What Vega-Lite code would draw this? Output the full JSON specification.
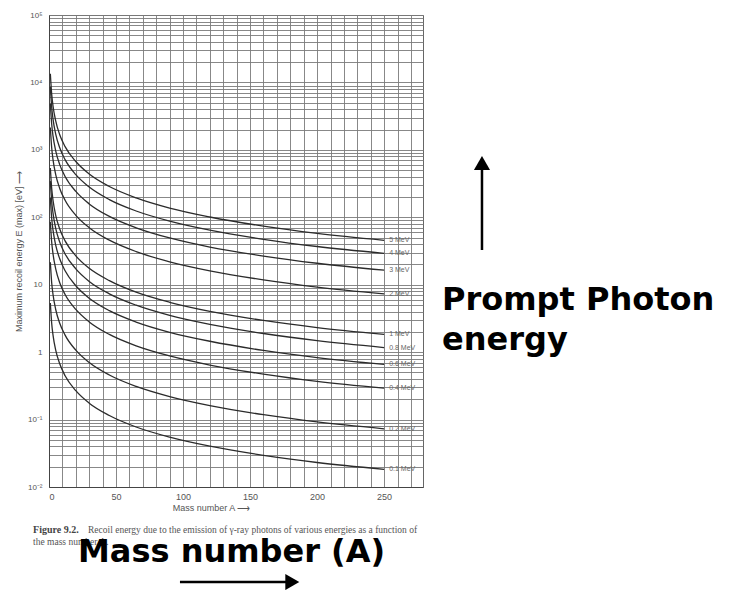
{
  "$schema": "https://vega.github.io/schema/vega-lite/v6.json",
  "width": 374,
  "height": 472,
  "autosize": {"type": "none"},
  "padding": {"left": 49, "top": 15, "right": 313, "bottom": 103},
  "background": "white",
  "config": {
    "view": {"stroke": "#666", "strokeWidth": 1},
    "font": "Liberation Sans"
  },
  "datasets": {
    "curves": [
      {"E":"5","A":1,"R":13420},{"E":"5","A":2,"R":6710},{"E":"5","A":3,"R":4473},{"E":"5","A":5,"R":2684},{"E":"5","A":8,"R":1678},{"E":"5","A":12,"R":1118},{"E":"5","A":20,"R":671},{"E":"5","A":30,"R":438},{"E":"5","A":45,"R":286},{"E":"5","A":65,"R":194},{"E":"5","A":90,"R":137},{"E":"5","A":120,"R":101},{"E":"5","A":160,"R":73.8},{"E":"5","A":200,"R":57.7},{"E":"5","A":250,"R":45.6},
      {"E":"4","A":1,"R":8589},{"E":"4","A":2,"R":4295},{"E":"4","A":3,"R":2863},{"E":"4","A":5,"R":1718},{"E":"4","A":8,"R":1074},{"E":"4","A":12,"R":716},{"E":"4","A":20,"R":429},{"E":"4","A":30,"R":281},{"E":"4","A":45,"R":183},{"E":"4","A":65,"R":124},{"E":"4","A":90,"R":87.8},{"E":"4","A":120,"R":64.4},{"E":"4","A":160,"R":47.2},{"E":"4","A":200,"R":36.9},{"E":"4","A":250,"R":29.2},
      {"E":"3","A":1,"R":4831},{"E":"3","A":2,"R":2416},{"E":"3","A":3,"R":1610},{"E":"3","A":5,"R":966},{"E":"3","A":8,"R":604},{"E":"3","A":12,"R":403},{"E":"3","A":20,"R":242},{"E":"3","A":30,"R":158},{"E":"3","A":45,"R":103},{"E":"3","A":65,"R":69.9},{"E":"3","A":90,"R":49.4},{"E":"3","A":120,"R":36.2},{"E":"3","A":160,"R":26.6},{"E":"3","A":200,"R":20.8},{"E":"3","A":250,"R":16.4},
      {"E":"2","A":1,"R":2147},{"E":"2","A":2,"R":1074},{"E":"2","A":3,"R":716},{"E":"2","A":5,"R":429},{"E":"2","A":8,"R":268},{"E":"2","A":12,"R":179},{"E":"2","A":20,"R":107},{"E":"2","A":30,"R":70.1},{"E":"2","A":45,"R":45.8},{"E":"2","A":65,"R":31.0},{"E":"2","A":90,"R":21.9},{"E":"2","A":120,"R":16.1},{"E":"2","A":160,"R":11.8},{"E":"2","A":200,"R":9.23},{"E":"2","A":250,"R":7.30},
      {"E":"1","A":1,"R":537},{"E":"1","A":2,"R":268},{"E":"1","A":3,"R":179},{"E":"1","A":5,"R":107},{"E":"1","A":8,"R":67.1},{"E":"1","A":12,"R":44.7},{"E":"1","A":20,"R":26.8},{"E":"1","A":30,"R":17.5},{"E":"1","A":45,"R":11.5},{"E":"1","A":65,"R":7.76},{"E":"1","A":90,"R":5.49},{"E":"1","A":120,"R":4.03},{"E":"1","A":160,"R":2.95},{"E":"1","A":200,"R":2.31},{"E":"1","A":250,"R":1.83},
      {"E":"0.8","A":1,"R":344},{"E":"0.8","A":2,"R":172},{"E":"0.8","A":3,"R":115},{"E":"0.8","A":5,"R":68.7},{"E":"0.8","A":8,"R":42.9},{"E":"0.8","A":12,"R":28.6},{"E":"0.8","A":20,"R":17.2},{"E":"0.8","A":30,"R":11.2},{"E":"0.8","A":45,"R":7.33},{"E":"0.8","A":65,"R":4.97},{"E":"0.8","A":90,"R":3.51},{"E":"0.8","A":120,"R":2.58},{"E":"0.8","A":160,"R":1.89},{"E":"0.8","A":200,"R":1.48},{"E":"0.8","A":250,"R":1.17},
      {"E":"0.6","A":1,"R":193},{"E":"0.6","A":2,"R":96.6},{"E":"0.6","A":3,"R":64.4},{"E":"0.6","A":5,"R":38.6},{"E":"0.6","A":8,"R":24.2},{"E":"0.6","A":12,"R":16.1},{"E":"0.6","A":20,"R":9.66},{"E":"0.6","A":30,"R":6.31},{"E":"0.6","A":45,"R":4.12},{"E":"0.6","A":65,"R":2.79},{"E":"0.6","A":90,"R":1.97},{"E":"0.6","A":120,"R":1.45},{"E":"0.6","A":160,"R":1.06},{"E":"0.6","A":200,"R":0.831},{"E":"0.6","A":250,"R":0.657},
      {"E":"0.4","A":1,"R":85.9},{"E":"0.4","A":2,"R":43.0},{"E":"0.4","A":3,"R":28.6},{"E":"0.4","A":5,"R":17.2},{"E":"0.4","A":8,"R":10.7},{"E":"0.4","A":12,"R":7.16},{"E":"0.4","A":20,"R":4.30},{"E":"0.4","A":30,"R":2.81},{"E":"0.4","A":45,"R":1.83},{"E":"0.4","A":65,"R":1.24},{"E":"0.4","A":90,"R":0.878},{"E":"0.4","A":120,"R":0.644},{"E":"0.4","A":160,"R":0.472},{"E":"0.4","A":200,"R":0.369},{"E":"0.4","A":250,"R":0.292},
      {"E":"0.2","A":1,"R":21.5},{"E":"0.2","A":2,"R":10.7},{"E":"0.2","A":3,"R":7.16},{"E":"0.2","A":5,"R":4.29},{"E":"0.2","A":8,"R":2.68},{"E":"0.2","A":12,"R":1.79},{"E":"0.2","A":20,"R":1.07},{"E":"0.2","A":30,"R":0.701},{"E":"0.2","A":45,"R":0.458},{"E":"0.2","A":65,"R":0.310},{"E":"0.2","A":90,"R":0.219},{"E":"0.2","A":120,"R":0.161},{"E":"0.2","A":160,"R":0.118},{"E":"0.2","A":200,"R":0.0923},{"E":"0.2","A":250,"R":0.0730},
      {"E":"0.1","A":1,"R":5.37},{"E":"0.1","A":2,"R":2.68},{"E":"0.1","A":3,"R":1.79},{"E":"0.1","A":5,"R":1.07},{"E":"0.1","A":8,"R":0.671},{"E":"0.1","A":12,"R":0.447},{"E":"0.1","A":20,"R":0.268},{"E":"0.1","A":30,"R":0.175},{"E":"0.1","A":45,"R":0.115},{"E":"0.1","A":65,"R":0.0776},{"E":"0.1","A":90,"R":0.0549},{"E":"0.1","A":120,"R":0.0403},{"E":"0.1","A":160,"R":0.0295},{"E":"0.1","A":200,"R":0.0231},{"E":"0.1","A":250,"R":0.0183}
    ],
    "labels": [
      {"t":"5    MeV","A":250,"R":45.6},
      {"t":"4    MeV","A":250,"R":29.2},
      {"t":"3    MeV","A":250,"R":16.4},
      {"t":"2    MeV","A":250,"R":7.30},
      {"t":"1    MeV","A":250,"R":1.83},
      {"t":"0.8 MeV","A":250,"R":1.17},
      {"t":"0.6 MeV","A":250,"R":0.657},
      {"t":"0.4 MeV","A":250,"R":0.292},
      {"t":"0.2 MeV","A":250,"R":0.073},
      {"t":"0.1 MeV","A":250,"R":0.0183}
    ],
    "big": [
      {"t":"Prompt Photon","A":293.2,"R":4.22},
      {"t":"energy","A":293.2,"R":1.08},
      {"t":"Mass number (A)","A":21.6,"R":0.000773}
    ],
    "capBold": [
      {"t":"Figure 9.2.","A":-11.9,"R":0.00208}
    ],
    "cap": [
      {"t":"Recoil energy due to the emission of γ-ray photons of various energies as a function of","A":29.1,"R":0.00208},
      {"t":"the mass number A.","A":-11.9,"R":0.00138}
    ],
    "arrows": [
      {"A":323.0,"R":32.7,"A2":323.0,"R2":520},
      {"A":97.7,"R":0.00039,"A2":177.0,"R2":0.00039}
    ],
    "headUp": [{"A":323.0,"R":640}],
    "headRight": [{"A":181.5,"R":0.00039}]
  },
  "layer": [
    {
      "data": {"name": "curves"},
      "mark": {"type": "line", "interpolate": "monotone", "color": "#2b2b2b", "strokeWidth": 1.3, "clip": true},
      "encoding": {
        "x": {
          "field": "A", "type": "quantitative",
          "scale": {"domain": [0, 279], "nice": false, "zero": false},
          "axis": {
            "values": [0,10,20,30,40,50,60,70,80,90,100,110,120,130,140,150,160,170,180,190,200,210,220,230,240,250,260,270],
            "tickCount": 100,
            "labelExpr": "datum.value % 50 == 0 ? datum.label : ''",
            "labelOverlap": false,
            "ticks": false,
            "grid": true, "gridColor": "#7a7a7a", "gridWidth": 0.9,
            "domainColor": "#444",
            "labelFont": "Liberation Sans", "labelFontSize": 9, "labelColor": "#555", "labelPadding": 5,
            "title": "Mass number A  ⟶",
            "titleFont": "Liberation Sans", "titleFontSize": 9, "titleFontWeight": "normal", "titleColor": "#555",
            "titleX": 162, "titleAlign": "center", "titlePadding": 2
          }
        },
        "y": {
          "field": "R", "type": "quantitative",
          "scale": {"type": "log", "domain": [0.01, 100000], "nice": false},
          "axis": {
            "values": [0.01,0.02,0.03,0.04,0.05,0.06,0.07,0.08,0.09,0.1,0.2,0.3,0.4,0.5,0.6,0.7,0.8,0.9,1,2,3,4,5,6,7,8,9,10,20,30,40,50,60,70,80,90,100,200,300,400,500,600,700,800,900,1000,2000,3000,4000,5000,6000,7000,8000,9000,10000,20000,30000,40000,50000,60000,70000,80000,90000,100000],
            "tickCount": 200,
            "labelExpr": "datum.value == 100000 ? '10⁵' : datum.value == 10000 ? '10⁴' : datum.value == 1000 ? '10³' : datum.value == 100 ? '10²' : datum.value == 10 ? '10' : datum.value == 1 ? '1' : datum.value == 0.1 ? '10⁻¹' : datum.value == 0.01 ? '10⁻²' : ''",
            "labelOverlap": false,
            "ticks": false,
            "grid": true, "gridColor": "#7a7a7a", "gridWidth": 0.9,
            "domainColor": "#444",
            "labelFont": "Liberation Sans", "labelFontSize": 8, "labelColor": "#555", "labelPadding": 7,
            "title": "Maximum recoil energy E (max) [eV]  ⟶",
            "titleFont": "Liberation Sans", "titleFontSize": 9, "titleFontWeight": "normal", "titleColor": "#555",
            "titlePadding": 4
          }
        },
        "detail": {"field": "E", "type": "nominal"}
      }
    },
    {
      "data": {"name": "labels"},
      "mark": {"type": "text", "align": "left", "baseline": "middle", "dx": 5, "fontSize": 7, "color": "#666", "font": "Liberation Sans"},
      "encoding": {
        "x": {"field": "A", "type": "quantitative"},
        "y": {"field": "R", "type": "quantitative"},
        "text": {"field": "t"}
      }
    },
    {
      "data": {"name": "capBold"},
      "mark": {"type": "text", "align": "left", "baseline": "alphabetic", "fontSize": 10, "fontWeight": "bold", "color": "#444", "font": "Liberation Serif", "clip": false},
      "encoding": {
        "x": {"field": "A", "type": "quantitative"},
        "y": {"field": "R", "type": "quantitative"},
        "text": {"field": "t"}
      }
    },
    {
      "data": {"name": "cap"},
      "mark": {"type": "text", "align": "left", "baseline": "alphabetic", "fontSize": 9.5, "color": "#555", "font": "Liberation Serif", "clip": false},
      "encoding": {
        "x": {"field": "A", "type": "quantitative"},
        "y": {"field": "R", "type": "quantitative"},
        "text": {"field": "t"}
      }
    },
    {
      "data": {"name": "big"},
      "mark": {"type": "text", "align": "left", "baseline": "alphabetic", "fontSize": 32, "fontWeight": "bold", "color": "#000", "font": "DejaVu Sans", "clip": false},
      "encoding": {
        "x": {"field": "A", "type": "quantitative"},
        "y": {"field": "R", "type": "quantitative"},
        "text": {"field": "t"}
      }
    },
    {
      "data": {"name": "arrows"},
      "mark": {"type": "rule", "color": "#000", "strokeWidth": 2.5, "clip": false},
      "encoding": {
        "x": {"field": "A", "type": "quantitative"},
        "y": {"field": "R", "type": "quantitative"},
        "x2": {"field": "A2"},
        "y2": {"field": "R2"}
      }
    },
    {
      "data": {"name": "headUp"},
      "mark": {"type": "point", "shape": "triangle-up", "filled": true, "color": "#000", "size": 260, "opacity": 1, "clip": false},
      "encoding": {
        "x": {"field": "A", "type": "quantitative"},
        "y": {"field": "R", "type": "quantitative"}
      }
    },
    {
      "data": {"name": "headRight"},
      "mark": {"type": "point", "shape": "triangle-right", "filled": true, "color": "#000", "size": 260, "opacity": 1, "clip": false},
      "encoding": {
        "x": {"field": "A", "type": "quantitative"},
        "y": {"field": "R", "type": "quantitative"}
      }
    }
  ]
}
